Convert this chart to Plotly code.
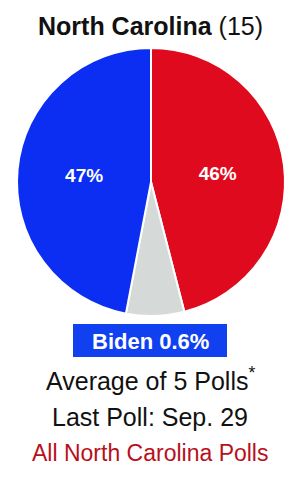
import plotly.graph_objects as go

candidates = ["Trump", "Other", "Biden"]
shares = [46, 7, 47]
colors = ["#e00a1e", "#d5dad9", "#0b2ef2"]
labels_text = ["46%", "", "47%"]

state = "North Carolina"
electoral_votes = 15
leader = "Biden 0.6%"
n_polls = 5
last_poll = "Sep. 29"

W, H = 300, 481
fig = go.Figure()
fig.add_trace(go.Pie(
    labels=candidates, values=shares, sort=False, direction="clockwise",
    rotation=0, marker=dict(colors=colors, line=dict(color="white", width=2)),
    text=labels_text, textinfo="text", textposition="inside",
    insidetextorientation="horizontal",
    textfont=dict(family="Liberation Sans", size=19, color="white", weight="bold"),
    domain=dict(x=[17/W, 285/W], y=[1-316/H, 1-48/H]),
    showlegend=False, hoverinfo="label+percent",
))

font = "Liberation Sans"

def note(y_px, text, size, color):
    fig.add_annotation(x=0.5, y=1-y_px/H, xref="paper", yref="paper", showarrow=False,
        xanchor="center", yanchor="middle", text=text,
        font=dict(family=font, size=size, color=color))

note(26, f"<b>{state}</b> ({electoral_votes})", 25, "#111")
fig.add_shape(type="rect", xref="paper", yref="paper",
    x0=73/W, x1=227/W, y0=1-357/H, y1=1-324/H, fillcolor="#1040f0", line=dict(width=0))
note(341, f"<b>{leader}</b>", 22, "white")
note(379, f"Average of {n_polls} Polls<sup>*</sup>", 25, "#111")
note(417, f"Last Poll: {last_poll}", 25, "#111")
note(453, f"All {state} Polls", 23, "#b8101c")

fig.update_layout(width=W, height=H, margin=dict(l=0, r=0, t=0, b=0),
    paper_bgcolor="white", plot_bgcolor="white")
fig.write_html("out.html")
